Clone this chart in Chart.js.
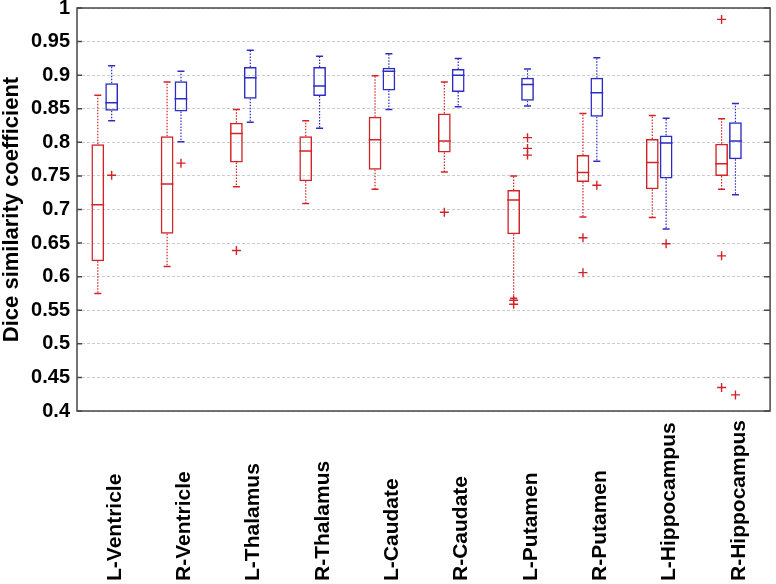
<!DOCTYPE html>
<html lang="en">
<head>
<meta charset="utf-8" />
<title>Dice similarity coefficient</title>
<style>
    body { margin: 0; background: #fff; }
    .plot { width: 776px; height: 584px; }
</style>
</head>
<body>
<div class="plot">
    <canvas id="mychart"></canvas>
</div>
<script src="https://cdn.jsdelivr.net/npm/chart.js@4.4.1/dist/chart.umd.min.js"></script>
<script>
    const categories = ['L-Ventricle', 'R-Ventricle', 'L-Thalamus', 'R-Thalamus', 'L-Caudate',
        'R-Caudate', 'L-Putamen', 'R-Putamen', 'L-Hippocampus', 'R-Hippocampus'];

    // red boxes
    const redLow = [0.575, 0.615, 0.734, 0.709, 0.730, 0.756, 0.568, 0.689, 0.688, 0.730];
    const redQ1 = [0.623, 0.664, 0.770, 0.742, 0.759, 0.785, 0.663, 0.741, 0.730, 0.750];
    const redMedian = [0.707, 0.738, 0.813, 0.787, 0.804, 0.802, 0.714, 0.755, 0.770, 0.768];
    const redQ3 = [0.797, 0.809, 0.829, 0.809, 0.838, 0.843, 0.729, 0.781, 0.805, 0.798];
    const redHigh = [0.870, 0.890, 0.849, 0.832, 0.899, 0.890, 0.750, 0.843, 0.840, 0.835];
    const redOutliers = [[], [], [0.639], [], [], [0.696], [0.565, 0.559], [0.658, 0.606], [], [0.983, 0.631, 0.435]];

    // blue boxes
    const blueLow = [0.832, 0.801, 0.830, 0.821, 0.849, 0.853, 0.854, 0.772, 0.671, 0.722];
    const blueQ1 = [0.847, 0.846, 0.865, 0.869, 0.877, 0.875, 0.862, 0.838, 0.746, 0.775];
    const blueMedian = [0.859, 0.865, 0.896, 0.884, 0.906, 0.900, 0.886, 0.874, 0.799, 0.802];
    const blueQ3 = [0.888, 0.891, 0.912, 0.912, 0.911, 0.909, 0.896, 0.896, 0.810, 0.830];
    const blueHigh = [0.914, 0.906, 0.937, 0.928, 0.932, 0.925, 0.909, 0.926, 0.836, 0.858];
    const blueOutliers = [[0.751], [0.769], [], [], [], [], [0.807, 0.791, 0.781], [0.736], [0.649], [0.424]];

    const yTicks = [0.4, 0.45, 0.5, 0.55, 0.6, 0.65, 0.7, 0.75, 0.8, 0.85, 0.9, 0.95, 1];

    const red = 'rgb(208, 36, 40)';
    const blue = 'rgb(44, 44, 196)';
    const frameColor = '#474747';

    const boxes = [
        { low: redLow, q1: redQ1, med: redMedian, q3: redQ3, high: redHigh, color: red },
        { low: blueLow, q1: blueQ1, med: blueMedian, q3: blueQ3, high: blueHigh, color: blue },
    ];

    // outliers are always red '+', placed on their own box
    const outlierPoints = [];
    redOutliers.forEach((vals, i) => vals.forEach(v => outlierPoints.push({ x: i + 1 - 0.1, y: v })));
    blueOutliers.forEach((vals, i) => vals.forEach(v => outlierPoints.push({ x: i + 1 + 0.1, y: v })));

    const boxParts = {
        id: 'boxParts',
        afterDatasetsDraw(chart) {
            const ctx = chart.ctx;
            const y = chart.scales.y;
            ctx.save();
            boxes.forEach((b, k) => {
                const meta = chart.getDatasetMeta(k);
                meta.data.forEach((el, i) => {
                    const x = el.x;
                    const w = el.width;
                    ctx.strokeStyle = b.color;
                    // whiskers
                    ctx.lineWidth = 1.2;
                    ctx.setLineDash([1.5, 1.5]);
                    ctx.beginPath();
                    ctx.moveTo(x, y.getPixelForValue(b.q3[i]));
                    ctx.lineTo(x, y.getPixelForValue(b.high[i]));
                    ctx.moveTo(x, y.getPixelForValue(b.q1[i]));
                    ctx.lineTo(x, y.getPixelForValue(b.low[i]));
                    ctx.stroke();
                    ctx.setLineDash([]);
                    ctx.lineWidth = 1.5;
                    ctx.beginPath();
                    [b.high[i], b.low[i]].forEach(v => {
                        const py = y.getPixelForValue(v);
                        ctx.moveTo(x - 3.5, py);
                        ctx.lineTo(x + 3.5, py);
                    });
                    // median
                    const pm = y.getPixelForValue(b.med[i]);
                    ctx.moveTo(x - w / 2, pm);
                    ctx.lineTo(x + w / 2, pm);
                    ctx.stroke();
                });
            });
            ctx.restore();
        },
        afterDraw(chart) {
            const ctx = chart.ctx;
            const a = chart.chartArea;
            const x = chart.scales.x;
            const y = chart.scales.y;
            ctx.save();
            ctx.strokeStyle = frameColor;
            ctx.lineWidth = 1.5;
            ctx.strokeRect(a.left, a.top, a.right - a.left, a.bottom - a.top);
            ctx.beginPath();
            yTicks.forEach(v => {
                const py = y.getPixelForValue(v);
                ctx.moveTo(a.left, py);
                ctx.lineTo(a.left + 5, py);
                ctx.moveTo(a.right, py);
                ctx.lineTo(a.right - 6, py);
            });
            ctx.stroke();

            // category labels, read bottom to top
            ctx.fillStyle = '#000';
            ctx.font = 'bold 21px "Liberation Sans", Arial, sans-serif';
            ctx.textAlign = 'left';
            ctx.textBaseline = 'alphabetic';
            categories.forEach((c, i) => {
                const px = x.getPixelForValue(i + 1);
                ctx.save();
                ctx.translate(px + 16, 581);
                ctx.rotate(-Math.PI / 2);
                ctx.fillText(c, 0, 0);
                ctx.restore();
            });
            ctx.restore();
        }
    };

    new Chart(document.getElementById('mychart'), {
        type: 'bar',
        data: {
            datasets: [{
                label: 'red',
                data: categories.map((c, i) => ({ x: i + 1, y: [redQ1[i], redQ3[i]] })),
                backgroundColor: 'rgba(0,0,0,0)',
                borderColor: red,
                borderWidth: 1.5,
                borderSkipped: false,
                categoryPercentage: 0.4,
                barPercentage: 0.92,
            }, {
                label: 'blue',
                data: categories.map((c, i) => ({ x: i + 1, y: [blueQ1[i], blueQ3[i]] })),
                backgroundColor: 'rgba(0,0,0,0)',
                borderColor: blue,
                borderWidth: 1.5,
                borderSkipped: false,
                categoryPercentage: 0.4,
                barPercentage: 0.92,
            }, {
                type: 'scatter',
                label: 'outliers',
                data: outlierPoints,
                pointStyle: 'cross',
                radius: 4.5,
                borderColor: red,
                borderWidth: 1.4,
                showLine: false,
            }],
        },
        options: {
            responsive: true,
            maintainAspectRatio: false,
            animation: false,
            layout: { padding: { top: 8, right: 4, left: 0, bottom: 0 } },
            plugins: { legend: { display: false }, tooltip: { enabled: false } },
            scales: {
                x: {
                    type: 'linear',
                    offset: false,
                    min: 0.6,
                    max: 10.6,
                    grid: { display: false },
                    border: { display: false },
                    ticks: { display: false },
                    afterFit(scale) {
                        scale.height = 173;
                        scale.paddingLeft = 0;
                        scale.paddingRight = 0;
                    },
                },
                y: {
                    min: 0.4,
                    max: 1,
                    afterBuildTicks(scale) {
                        scale.ticks = yTicks.map(v => ({ value: v }));
                    },
                    grid: { color: '#cdcdcd', lineWidth: 1, drawTicks: false },
                    border: { display: false, dash: [3, 2] },
                    ticks: {
                        padding: 7,
                        color: '#000',
                        font: { family: '"Liberation Sans", Arial, sans-serif', size: 20, weight: 'bold' },
                        callback: v => String(+v.toFixed(2)),
                    },
                    title: {
                        display: true,
                        text: 'Dice similarity coefficient',
                        color: '#000',
                        padding: 0,
                        font: { family: '"Liberation Sans", Arial, sans-serif', size: 22, weight: 'bold', lineHeight: 1.05 },
                    },
                    afterFit(scale) {
                        scale.width = 77;
                        scale.paddingTop = 0;
                        scale.paddingBottom = 0;
                    },
                },
            },
        },
        plugins: [boxParts],
    });
</script>
</body>
</html>
